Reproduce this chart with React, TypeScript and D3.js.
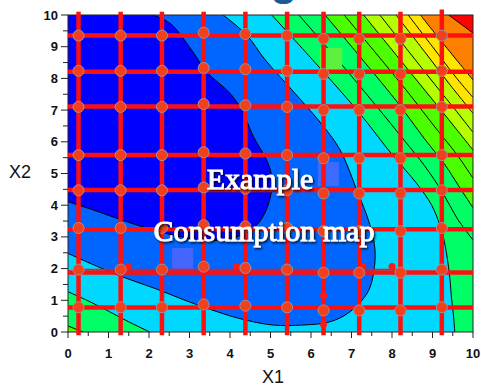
import { useMemo } from 'react'
import * as d3 from 'd3'

type Pt = [number, number]

// axis ticks
const majorTicks = [0, 1, 2, 3, 4, 5, 6, 7, 8, 9, 10]
const minorTicks = [0.5, 1.5, 2.5, 3.5, 4.5, 5.5, 6.5, 7.5, 8.5, 9.5]

// colour bands, lowest consumption first
const bandColors = ['#0000ff', '#0066ff', '#00d8ff', '#00ff66', '#4cff00', '#b4ff00', '#ffe400', '#ff8000', '#ff0000']

// contour boundaries, as [X1, X2]
const darkBlueEdge: Pt[] = [[2.1, 10], [2.52, 9.74], [3.05, 8.9], [3.42, 8.21], [4.0, 7.53], [4.29, 7.0], [4.58, 6.16], [4.86, 5.53], [5.0, 5.1], [5.03, 4.5], [4.86, 3.75], [4.6, 3.3], [4.2, 3.02], [3.5, 2.88], [2.8, 3.0], [2.1, 3.22], [1.45, 3.48], [0.62, 3.85], [0, 4.11]]
const blueEdge: Pt[] = [[3.83, 10], [4.41, 9.37], [4.86, 8.6], [5.68, 7.42], [6.3, 6.5], [6.72, 5.74], [7.13, 4.48], [7.45, 3.4], [7.58, 2.6], [7.55, 1.9], [7.42, 1.3], [7.15, 0.85], [6.8, 0.5], [6.4, 0.3], [5.8, 0.22], [5.06, 0.22], [4.25, 0.42], [3.5, 0.72], [2.85, 1.02], [2.2, 1.35], [1.45, 1.69], [0.7, 2.08], [0, 2.48]]
const greenLeftEdge: Pt[] = [[0, 1.27], [0.5, 0.98], [0.95, 0.69], [1.5, 0.32], [2.02, 0]]
const green2LeftEdge: Pt[] = [[0, 0.19], [0.37, 0]]
const greenRightEdge: Pt[] = [[5.03, 10], [6.1, 8.5], [7.2, 6.9], [8.0, 5.6], [8.6, 4.7], [8.98, 4.0], [9.2, 3.3], [9.31, 2.74], [9.42, 1.8], [9.47, 1.06], [9.52, 0.5], [9.55, 0]]
const green2RightEdge: Pt[] = [[6.35, 10], [7.2, 8.7], [8.1, 7.3], [8.8, 6.1], [9.31, 5.27], [9.65, 4.6], [10, 3.92]]
const yellowGreenEdge: Pt[] = [[7.3, 10], [8.0, 8.9], [8.7, 7.8], [9.4, 6.7], [10, 5.74]]
const yellowEdge: Pt[] = [[8.1, 10], [8.8, 8.85], [9.4, 7.85], [10, 6.9]]
const orangeEdge: Pt[] = [[8.7, 10], [9.2, 9.2], [10, 7.95]]
const redEdge: Pt[] = [[9.4, 10], [10, 9.43]]

// finer contour lines inside the upper-right bands
const greenMid: Pt[] = [[5.7, 10], [6.65, 8.6], [7.6, 7.15], [8.3, 6.05], [8.8, 5.25], [9.25, 4.4], [9.6, 3.6], [10, 2.9]]
const green2Mid: Pt[] = [[6.82, 10], [7.6, 8.8], [8.4, 7.55], [9.1, 6.4], [9.6, 5.6], [10, 4.85]]
const yellowGreenMid: Pt[] = [[7.7, 10], [8.4, 8.87], [9.05, 7.82], [9.6, 6.95], [10, 6.3]]
const yellowMid: Pt[] = [[8.4, 10], [9.0, 9.0], [9.6, 8.0], [10, 7.4]]

// red search grid
const gridX1 = [0.26, 1.3, 2.32, 3.35, 4.38, 5.41, 6.31, 7.19, 8.21, 9.23]
const gridX2 = [9.35, 8.21, 7.11, 5.58, 4.48, 3.24, 1.88, 0.77]
const pointX2 = [9.35, 8.24, 7.1, 5.58, 4.47, 3.28, 1.97, 0.78]
const pointShift = [0, 0, 0, 0.09, 0.05, 0, -0.1, -0.1, -0.1, 0]
const extraDots: Pt[] = [[1.48, 2.07], [4.17, 2.07], [7.28, 2.07], [8.0, 2.07], [6.31, 1.15], [6.31, 0.24]]

// highlighted cells [x1 min, x1 max, x2 min, x2 max]
const highlights: [number, number, number, number, string][] = [
  [2.57, 3.09, 1.89, 2.65, '#4466ff'],
  [6.17, 6.69, 4.6, 5.36, '#3d6bff'],
  [6.22, 6.77, 8.2, 8.96, '#5ef040'],
]

export default function App() {
  const x = d3.scaleLinear().domain([0, 10]).range([68, 473])
  const y = d3.scaleLinear().domain([0, 10]).range([332, 15])

  const paths = useMemo(() => {
    const line = d3.line<Pt>().x(d => x(d[0])).y(d => y(d[1])).curve(d3.curveCatmullRom.alpha(0.5))
    const region = (edge: Pt[], corners: Pt[]) =>
      line(edge) + corners.map(c => `L${x(c[0])},${y(c[1])}`).join('') + 'Z'
    const fills = [
      { d: region(blueEdge, [[0, 10]]), c: bandColors[1] },
      { d: region(darkBlueEdge, [[0, 10]]), c: bandColors[0] },
      { d: region(greenLeftEdge, [[0, 0]]), c: bandColors[3] },
      { d: region(green2LeftEdge, [[0, 0]]), c: bandColors[4] },
      { d: region(greenRightEdge, [[10, 0], [10, 10]]), c: bandColors[3] },
      { d: region(green2RightEdge, [[10, 10]]), c: bandColors[4] },
      { d: region(yellowGreenEdge, [[10, 10]]), c: bandColors[5] },
      { d: region(yellowEdge, [[10, 10]]), c: bandColors[6] },
      { d: region(orangeEdge, [[10, 10]]), c: bandColors[7] },
      { d: region(redEdge, [[10, 10]]), c: bandColors[8] },
    ]
    const edges = [darkBlueEdge, blueEdge, greenLeftEdge, green2LeftEdge, greenRightEdge, green2RightEdge, yellowGreenEdge, yellowEdge, orangeEdge, redEdge,
      greenMid, green2Mid, yellowGreenMid, yellowMid].map(e => line(e) as string)
    return { fills, edges }
  }, [])

  return (
    <svg width={481} height={390} style={{ position: 'absolute', left: 0, top: 0, background: '#fff' }}>
      <defs>
        <clipPath id="plot">
          <rect x={x(0)} y={y(10)} width={x(10) - x(0)} height={y(0) - y(10)} />
        </clipPath>
        <filter id="shadow" x="-10%" y="-20%" width="120%" height="150%">
          <feDropShadow dx={1.3} dy={1.5} stdDeviation={0.8} floodColor="#000" floodOpacity={0.9} />
        </filter>
      </defs>

      <text x={284} y={-5} textAnchor="middle" fontFamily="Liberation Sans" fontWeight="bold" fontSize={44} fill="#1c5a96">g</text>

      <g clipPath="url(#plot)">
        <rect x={x(0)} y={y(10)} width={x(10) - x(0)} height={y(0) - y(10)} fill={bandColors[2]} />
        {paths.fills.map((f, i) => <path key={i} d={f.d} fill={f.c} />)}
        {paths.edges.map((d, i) => <path key={i} d={d} fill="none" stroke="#000" strokeWidth={1} />)}
        {highlights.map((h, i) => (
          <rect key={i} x={x(h[0])} y={y(h[3])} width={x(h[1]) - x(h[0])} height={y(h[2]) - y(h[3])} fill={h[4]} />
        ))}
      </g>

      <rect x={x(0)} y={y(10)} width={x(10) - x(0)} height={y(0) - y(10)} fill="none" stroke="#222" strokeWidth={1} />

      {/* search grid */}
      {gridX2.map((v, i) => (
        <line key={'h' + i} x1={x(0)} x2={x(10)} y1={y(v)} y2={y(v)} stroke="#ff1010" strokeWidth={4.5} />
      ))}
      <line x1={x(gridX1[0])} x2={x(gridX1[8])} y1={y(pointX2[6])} y2={y(pointX2[6])} stroke="#cc2a2a" strokeWidth={1.5} />
      {gridX1.map((v, i) => (
        <line key={'v' + i} x1={x(v)} x2={x(v)} y1={y(i === 9 ? 10.17 : 10.1)} y2={y(-0.1)} stroke="#ff1010" strokeWidth={4.5} />
      ))}
      {extraDots.map((p, i) => (
        <circle key={'d' + i} cx={x(p[0])} cy={y(p[1])} r={3.5} fill="#ff1a10" />
      ))}
      {pointX2.map((r, ri) =>
        gridX1.map((c, ci) => (
          <circle key={ri + '-' + ci} cx={x(c)} cy={y(r + pointShift[ci])} r={5.5} fill="#f2401c" stroke="#a09098" strokeWidth={1} />
        ))
      )}

      {/* axes */}
      <g fontFamily="Liberation Sans" fontSize={13} fill="#111">
        {majorTicks.map(t => (
          <g key={'y' + t}>
            <line x1={x(0) - 7} x2={x(0)} y1={y(t)} y2={y(t)} stroke="#222" />
            <text x={x(0) - 10} y={y(t)} dy="0.35em" textAnchor="end" fontWeight="bold">{t}</text>
          </g>
        ))}
        {minorTicks.map(t => (
          <line key={'ym' + t} x1={x(0) - 5} x2={x(0)} y1={y(t)} y2={y(t)} stroke="#222" />
        ))}
        {majorTicks.map(t => (
          <g key={'x' + t}>
            <line x1={x(t)} x2={x(t)} y1={y(0)} y2={y(0) + 6} stroke="#222" />
            <text x={x(t)} y={y(0) + 21} dy="0.35em" textAnchor="middle" fontWeight="bold">{t}</text>
          </g>
        ))}
        {minorTicks.map(t => (
          <line key={'xm' + t} x1={x(t)} x2={x(t)} y1={y(0)} y2={y(0) + 4} stroke="#222" />
        ))}
        <text x={20} y={172} dy="0.35em" textAnchor="middle" fontSize={18}>X2</text>
        <text x={273} y={377} dy="0.35em" textAnchor="middle" fontSize={18}>X1</text>
      </g>

      <g fontFamily="Liberation Serif" fontSize={30} fill="#fff" stroke="#fff" strokeWidth={0.9} textAnchor="middle" filter="url(#shadow)">
        <text x={260} y={189}>Example</text>
        <text x={264} y={241}>Consumption map</text>
      </g>
    </svg>
  )
}
